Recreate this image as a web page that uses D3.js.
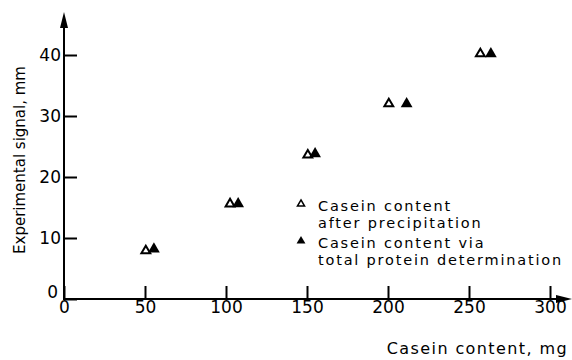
<!DOCTYPE html>
<html>
<head>
<meta charset="utf-8">
<script src="https://cdn.jsdelivr.net/npm/d3@7"></script>
<style>
  body { margin: 0; background: #fff; }
  svg text { font-family: "DejaVu Sans", sans-serif; fill: #000; }
</style>
</head>
<body>
<svg id="chart" width="572" height="360"></svg>
<script>
// casein content (mg) vs experimental signal (mm)
const precipX = [50.5, 102.5, 150.5, 200.5, 257];
const precipY = [7.9, 15.6, 23.6, 32.0, 40.2];
const totalX = [55.5, 107.5, 155, 211.5, 263.5];
const totalY = [8.2, 15.6, 23.8, 32.0, 40.2];
const xTicks = [0, 50, 100, 150, 200, 250, 300];
const yTicks = [0, 10, 20, 30, 40];
const legendLabels = [["Casein content", "after precipitation"], ["Casein content via", "total protein determination"]];

const svg = d3.select("#chart");
const x = d3.scaleLinear().domain([0, 300]).range([64, 550]);
const y = d3.scaleLinear().domain([0, 40]).range([299, 55]);

// y axis, ticks pointing inward
const yAxis = svg.append("g")
  .attr("transform", `translate(${x(0)},0)`)
  .call(d3.axisLeft(y).tickValues(yTicks).tickSize(-13).tickPadding(3).tickSizeOuter(0));
yAxis.select(".domain").remove();
yAxis.selectAll("line").attr("stroke", "#000").attr("stroke-width", 2);
yAxis.selectAll("text").style("font-size", "17px").attr("font-family", null);
yAxis.selectAll(".tick").filter(d => d === 0).select("text").attr("dy", "-0.1em").attr("x", -6);

// x axis
const xAxis = svg.append("g")
  .attr("transform", `translate(0,${y(0)})`)
  .call(d3.axisBottom(x).tickValues(xTicks).tickSize(-13).tickPadding(2).tickSizeOuter(0));
xAxis.select(".domain").remove();
xAxis.selectAll("line").attr("stroke", "#000").attr("stroke-width", 2);
xAxis.selectAll("text").style("font-size", "17px").attr("font-family", null);

// axis lines with arrowheads
svg.append("line").attr("x1", x(0)).attr("y1", y(0) + 1).attr("x2", x(0)).attr("y2", 22)
  .attr("stroke", "#000").attr("stroke-width", 2);
svg.append("path").attr("d", `M${x(0) - 4},28 L${x(0)},12 L${x(0) + 4},28 Z`).attr("fill", "#000");
svg.append("line").attr("x1", x(0) - 1).attr("y1", y(0)).attr("x2", 562).attr("y2", y(0))
  .attr("stroke", "#000").attr("stroke-width", 2);
svg.append("path").attr("d", `M556,${y(0) - 4} L572,${y(0)} L556,${y(0) + 4} Z`).attr("fill", "#000");

// markers
const tri = d3.symbol().type(d3.symbolTriangle);
svg.selectAll(".open").data(precipX).enter().append("path")
  .attr("class", "open")
  .attr("d", tri.size(34))
  .attr("transform", (d, i) => `translate(${x(d)},${y(precipY[i])})`)
  .attr("fill", "#fff").attr("stroke", "#000").attr("stroke-width", 2);
svg.selectAll(".filled").data(totalX).enter().append("path")
  .attr("class", "filled")
  .attr("d", tri.size(60))
  .attr("transform", (d, i) => `translate(${x(d)},${y(totalY[i])})`)
  .attr("fill", "#000");

// legend
const legend = svg.append("g").attr("transform", "translate(301,0)");
legendLabels.forEach((lines, i) => {
  const top = 211 + i * 37;
  legend.append("path")
    .attr("d", d3.symbol().type(d3.symbolTriangle).size(i === 0 ? 22 : 34)())
    .attr("transform", `translate(0,${top - 7})`)
    .attr("fill", i === 0 ? "#fff" : "#000")
    .attr("stroke", "#000").attr("stroke-width", i === 0 ? 1.5 : 0);
  lines.forEach((t, j) => {
    legend.append("text").attr("x", 17).attr("y", top + j * 17)
      .style("font-size", "14.5px").style("letter-spacing", "1.8px").text(t);
  });
});

// axis titles
svg.append("text").attr("x", 568).attr("y", 354).attr("text-anchor", "end")
  .style("font-size", "16px").style("letter-spacing", "1.4px").text("Casein content, mg");
svg.append("text").attr("transform", "translate(25,160) rotate(-90)")
  .attr("text-anchor", "middle").style("font-size", "15px").text("Experimental signal, mm");
</script>
</body>
</html>
